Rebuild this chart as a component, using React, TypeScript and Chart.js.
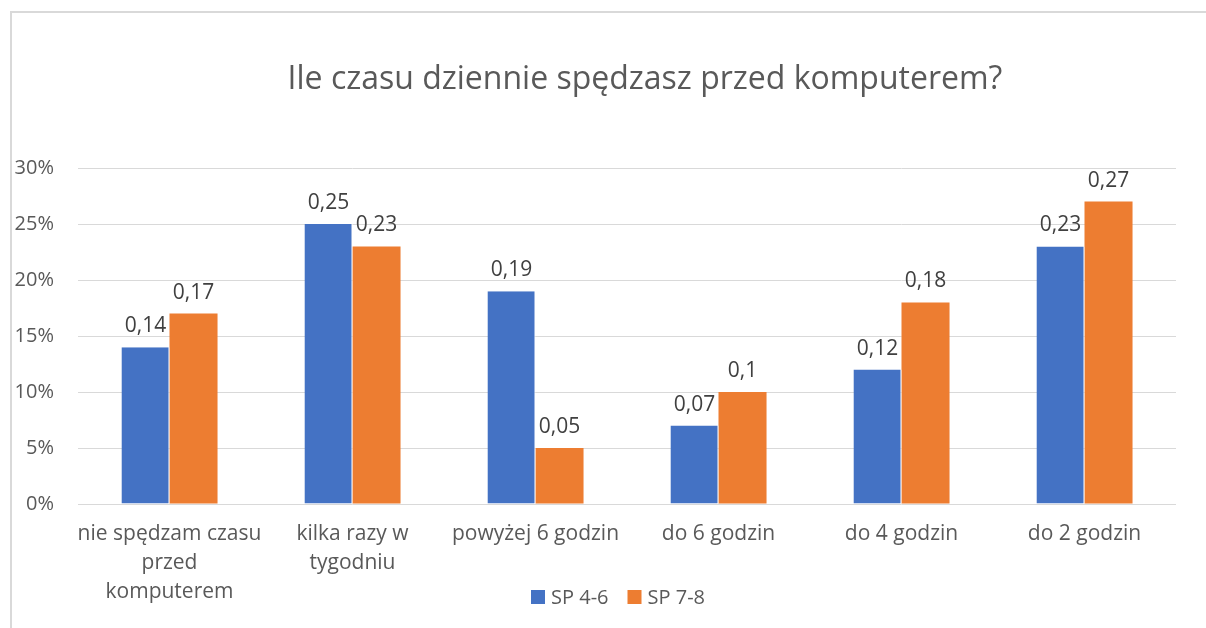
import React, { useEffect, useRef } from "react";
import { Chart, registerables } from "chart.js";

Chart.register(...registerables);

const categories: (string | string[])[] = [
  ["nie spędzam czasu", "przed", "komputerem"],
  ["kilka razy w", "tygodniu"],
  "powyżej 6 godzin",
  "do 6 godzin",
  "do 4 godzin",
  "do 2 godzin",
];
const sp46 = [0.14, 0.25, 0.19, 0.07, 0.12, 0.23];
const sp78 = [0.17, 0.23, 0.05, 0.1, 0.18, 0.27];
const seriesNames = ["SP 4-6", "SP 7-8"];
const seriesColors = ["#4472C4", "#ED7D31"];
const titleText = "Ile czasu dziennie spędzasz przed komputerem?";

const FONT = "'Open Sans', 'Noto Sans', sans-serif";

const valueLabels = {
  id: "valueLabels",
  afterDatasetsDraw(chart: any) {
    const ctx = chart.ctx;
    ctx.save();
    ctx.fillStyle = "#404040";
    ctx.font = `21px ${FONT}`;
    ctx.textAlign = "center";
    ctx.textBaseline = "middle";
    chart.data.datasets.forEach((ds: any, i: number) => {
      const meta = chart.getDatasetMeta(i);
      meta.data.forEach((bar: any, j: number) => {
        const v = ds.data[j];
        ctx.fillText(String(v).replace(".", ","), bar.x, bar.y - 21);
      });
    });
    ctx.restore();
  },
};

const titleAndLegend = {
  id: "titleAndLegend",
  afterDraw(chart: any) {
    const ctx = chart.ctx;
    ctx.save();
    // title
    ctx.fillStyle = "#595959";
    ctx.font = `32px ${FONT}`;
    ctx.textAlign = "center";
    ctx.textBaseline = "middle";
    ctx.fillText(titleText, 645, 80);
    // legend
    ctx.font = `20px ${FONT}`;
    ctx.textAlign = "left";
    const box = 14;
    const gap = 6;
    const spacing = 19;
    const items = chart.data.datasets.map((ds: any) => ({
      label: ds.label,
      color: ds.backgroundColor,
      w: ctx.measureText(ds.label).width,
    }));
    const total =
      items.reduce((s: number, it: any) => s + box + gap + it.w, 0) + spacing * (items.length - 1);
    let x = 618 - total / 2;
    const cy = 597;
    items.forEach((it: any) => {
      ctx.fillStyle = it.color;
      ctx.fillRect(x, cy - box / 2, box, box);
      ctx.fillStyle = "#595959";
      ctx.fillText(it.label, x + box + gap, cy + 1);
      x += box + gap + it.w + spacing;
    });
    ctx.restore();
  },
};

export default function App() {
  const ref = useRef<HTMLCanvasElement | null>(null);
  useEffect(() => {
    if (!ref.current) return;
    const chart = new Chart(ref.current, {
      type: "bar",
      data: {
        labels: categories,
        datasets: [
          { label: seriesNames[0], data: sp46, backgroundColor: seriesColors[0], borderColor: "#ffffff", borderWidth: { right: 1 } as any },
          { label: seriesNames[1], data: sp78, backgroundColor: seriesColors[1] },
        ],
      },
      options: {
        animation: false,
        responsive: false,
        maintainAspectRatio: false,
        layout: { padding: { left: 0, right: 30, top: 168, bottom: 0 } },
        datasets: { bar: { categoryPercentage: 0.525, barPercentage: 1 } },
        plugins: {
          title: { display: false },
          legend: { display: false },
          tooltip: { enabled: false },
        },
        scales: {
          x: {
            grid: { display: false, drawTicks: false },
            border: { display: false },
            ticks: {
              color: "#595959",
              font: { family: FONT, size: 21, lineHeight: 1.38 },
              padding: 16,
              maxRotation: 0,
              autoSkip: false,
            },
            afterFit(scale: any) {
              scale.height = 124;
            },
          },
          y: {
            min: 0,
            max: 0.3,
            grid: { color: "#d9d9d9", lineWidth: 1, drawTicks: false },
            border: { display: false },
            ticks: {
              stepSize: 0.05,
              color: "#595959",
              font: { family: FONT, size: 20 },
              padding: 24,
              callback: (v: any) => Math.round(Number(v) * 100) + "%",
            },
            afterFit(scale: any) {
              scale.width = 78;
            },
          },
        },
      },
      plugins: [valueLabels, titleAndLegend],
    });
    return () => chart.destroy();
  }, []);

  return (
    <div style={{ position: "fixed", left: 0, top: 0, width: 1206, height: 628, background: "#fff" }}>
      <div
        style={{
          position: "absolute",
          left: 10,
          top: 11,
          right: -2,
          bottom: -2,
          borderLeft: "2px solid #d9d9d9",
          borderTop: "2px solid #d9d9d9",
        }}
      />
      <canvas ref={ref} width={1206} height={628} style={{ position: "absolute", left: 0, top: 0 }} />
    </div>
  );
}
